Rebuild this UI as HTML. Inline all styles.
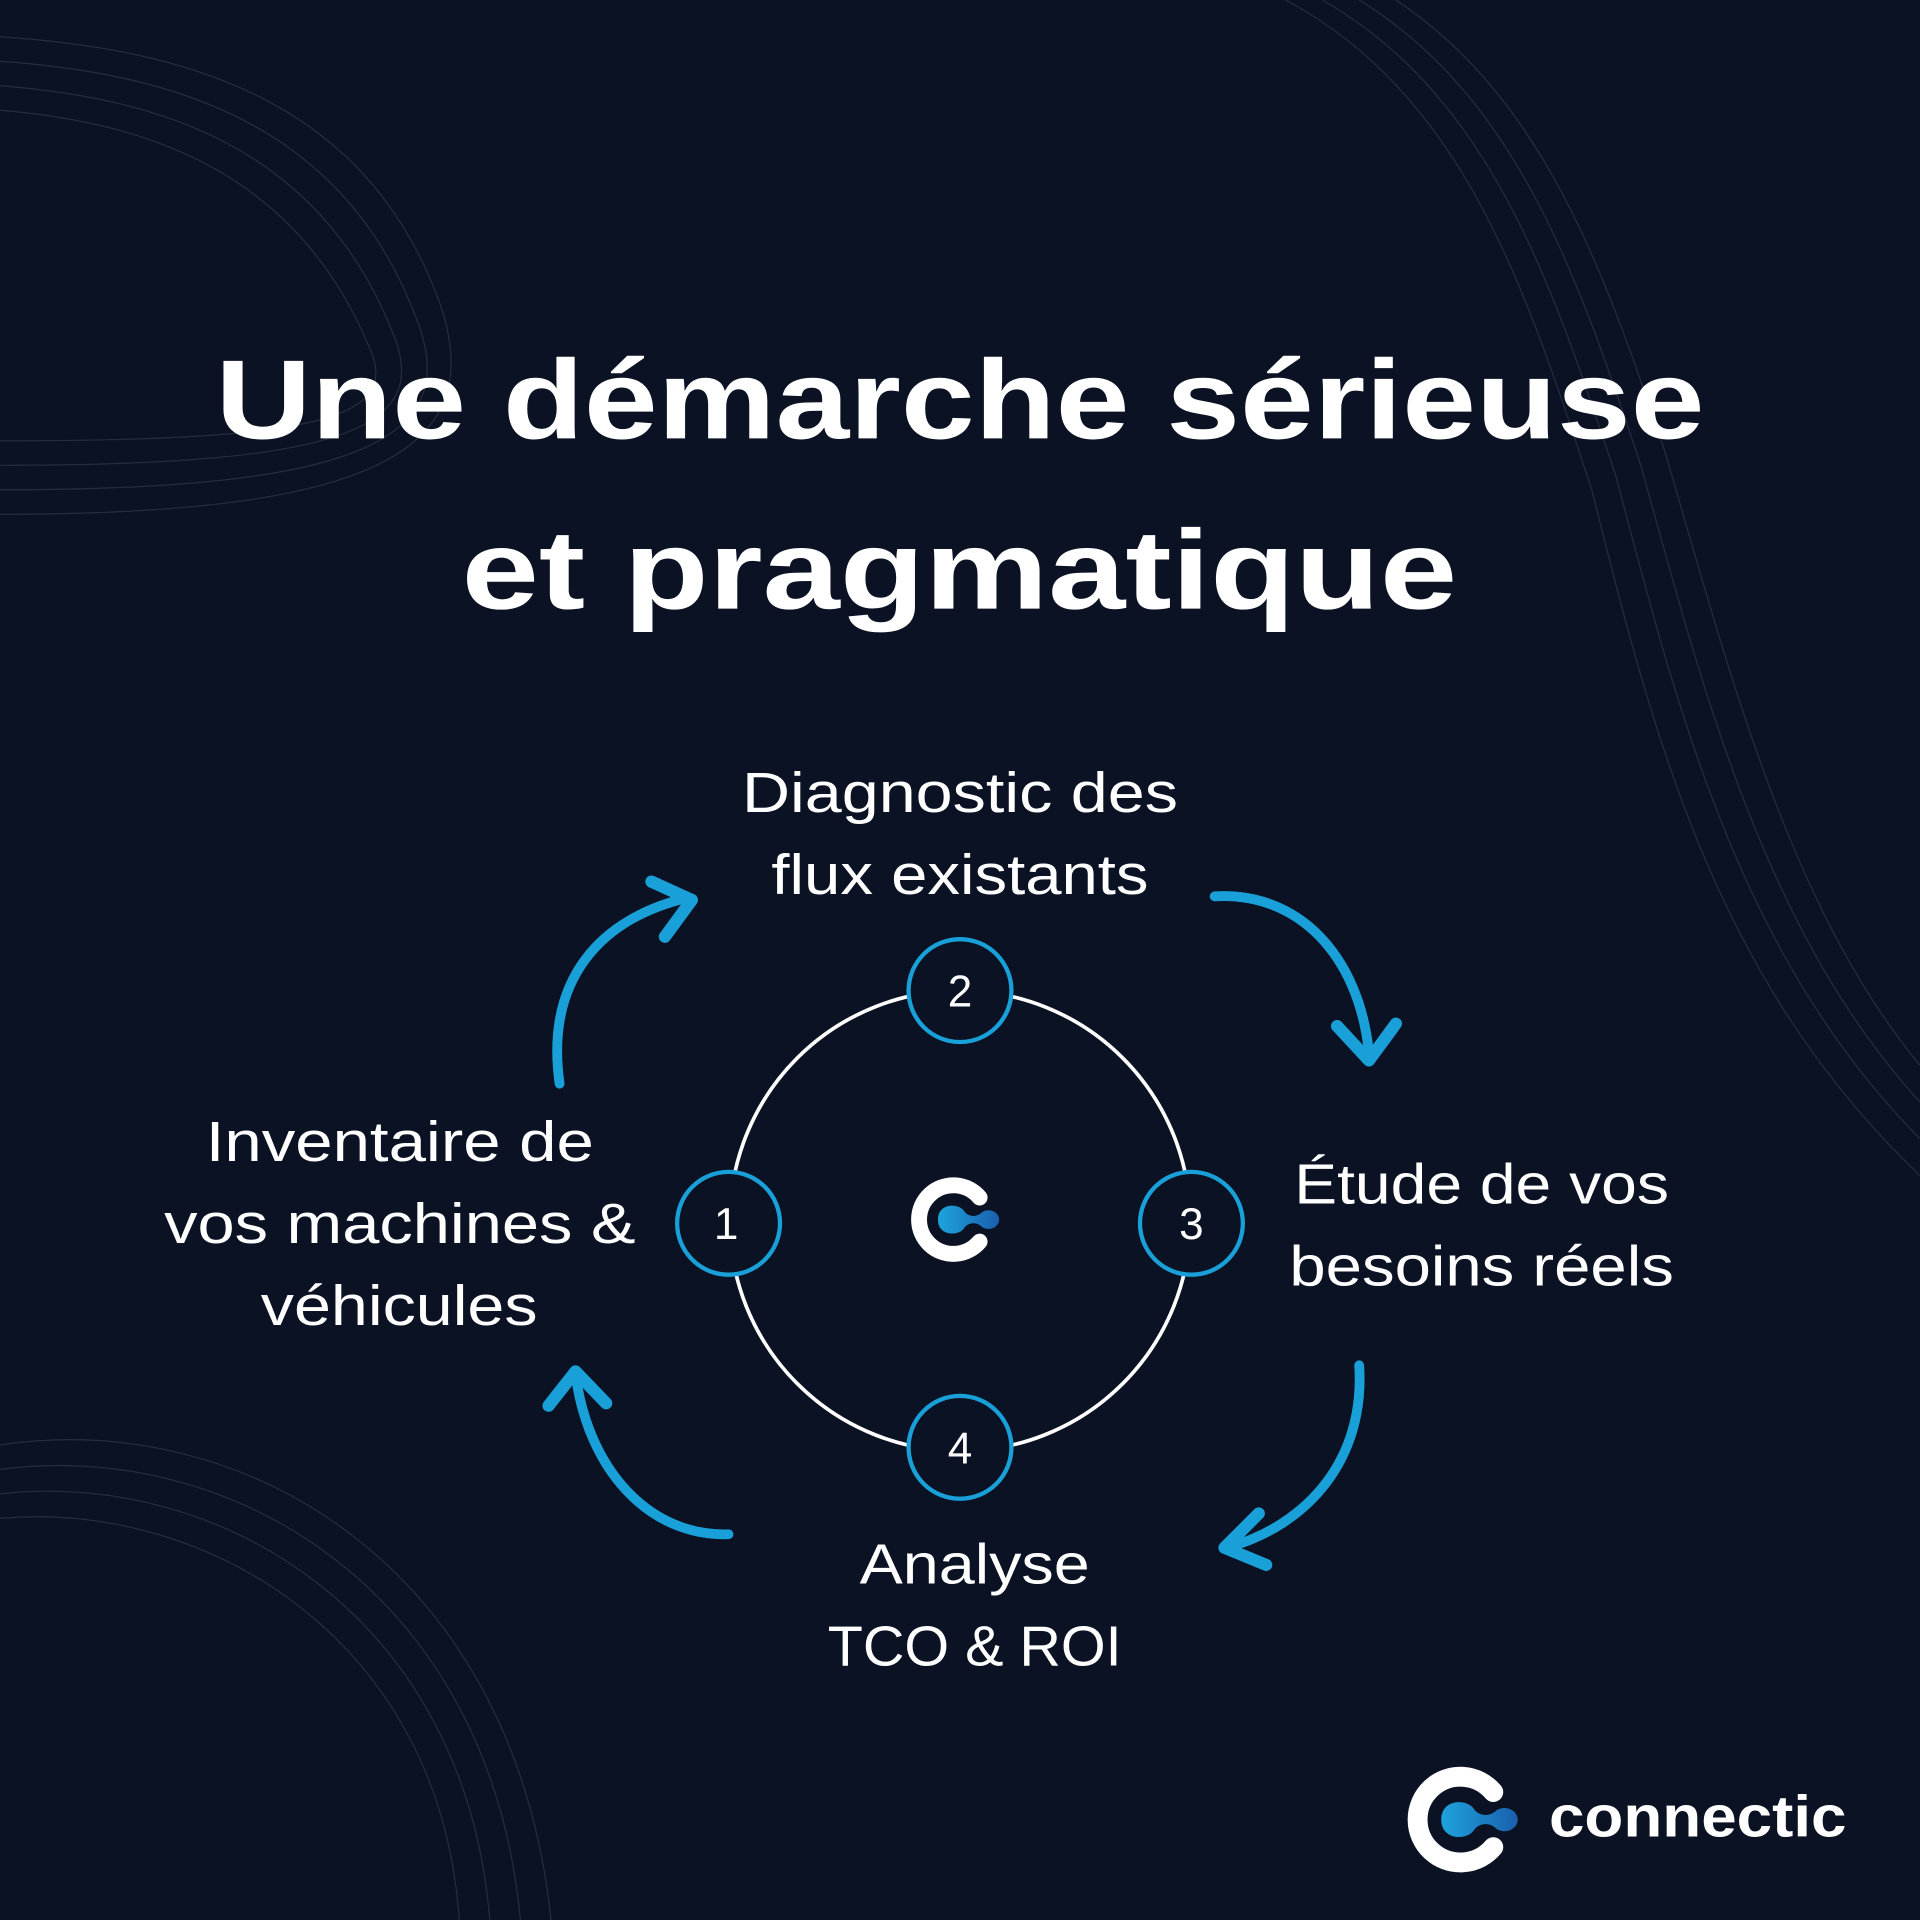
<!DOCTYPE html>
<html><head><meta charset="utf-8"><style>
html,body{margin:0;padding:0;background:#0b1223;}
svg{display:block}
text{font-family:"Liberation Sans",sans-serif;fill:#fff}
</style></head><body>
<svg width="1920" height="1920" viewBox="0 0 1568 1568" xmlns="http://www.w3.org/2000/svg">
<defs>
<linearGradient id="bl" x1="0" x2="1" y1="0" y2="0"><stop offset="0" stop-color="#1ea3dc"/><stop offset="1" stop-color="#1a5fae"/></linearGradient>
<g id="logo">
<path d="M22,-18 A28,28 0 1 0 22,18" fill="none" stroke="#fff" stroke-width="13" stroke-linecap="round"/>
<path d="M-12,0 C-12,-14 6,-14 10,-6 C14,-2 20,-2 24,-6 C30,-10 38,-6 38,0 C38,6 30,10 24,6 C20,2 14,2 10,6 C6,14 -12,14 -12,0 Z" fill="url(#bl)"/>
</g>
</defs>
<rect width="1568" height="1568" fill="#0b1223"/>
<g fill="none" stroke="#3a4356" stroke-width="1" opacity="0.55">
<path d="M0,30 C150,40 300,80 360,250 C400,370 300,420 0,420"/>
<path d="M0,50 C140,60 280,100 340,260 C380,360 290,400 0,400"/>
<path d="M0,70 C130,80 260,120 320,270 C355,350 280,380 0,380"/>
<path d="M0,90 C120,100 240,140 300,280 C330,340 270,360 0,360"/>
<path d="M0,1180 C200,1150 420,1280 450,1568"/>
<path d="M0,1200 C190,1175 400,1300 425,1568"/>
<path d="M0,1220 C180,1200 380,1320 400,1568"/>
<path d="M0,1240 C170,1225 360,1340 375,1568"/>
<path d="M1050,0 C1200,80 1250,250 1300,400 C1350,600 1400,800 1568,960"/>
<path d="M1080,0 C1220,80 1270,240 1320,390 C1370,580 1420,780 1568,930"/>
<path d="M1110,0 C1240,80 1290,230 1340,380 C1390,560 1440,760 1568,900"/>
<path d="M1140,0 C1260,80 1310,220 1360,370 C1410,540 1460,740 1568,870"/>
</g>
<text x="176" y="358" font-size="92" font-weight="bold" textLength="1216" lengthAdjust="spacingAndGlyphs">Une démarche sérieuse</text>
<text x="377" y="497" font-size="92" font-weight="bold" textLength="813" lengthAdjust="spacingAndGlyphs">et pragmatique</text>

<circle cx="784" cy="997" r="188" fill="none" stroke="#fff" stroke-width="3"/>
<g fill="#0b1223" stroke="#1aa0d8" stroke-width="3.5">
<circle cx="784" cy="809" r="42"/><circle cx="595" cy="999" r="42"/>
<circle cx="973" cy="999" r="42"/><circle cx="784" cy="1182" r="42"/>
</g>
<g font-size="36" text-anchor="middle">
<text x="784" y="822">2</text><text x="593" y="1012">1</text>
<text x="973" y="1012">3</text><text x="784" y="1195">4</text>
</g>
<use href="#logo" x="778" y="996"/>

<g font-size="46">
<text x="606" y="663" textLength="356" lengthAdjust="spacingAndGlyphs">Diagnostic des</text>
<text x="630" y="730" textLength="308" lengthAdjust="spacingAndGlyphs">flux existants</text>
<text x="168" y="948" textLength="317" lengthAdjust="spacingAndGlyphs">Inventaire de</text>
<text x="134" y="1015" textLength="385" lengthAdjust="spacingAndGlyphs">vos machines &amp;</text>
<text x="213" y="1082" textLength="226" lengthAdjust="spacingAndGlyphs">véhicules</text>
<text x="1057" y="983" textLength="306" lengthAdjust="spacingAndGlyphs">Étude de vos</text>
<text x="1053" y="1050" textLength="314" lengthAdjust="spacingAndGlyphs">besoins réels</text>
<text x="702" y="1293" textLength="188" lengthAdjust="spacingAndGlyphs">Analyse</text>
<text x="676" y="1360" textLength="240" lengthAdjust="spacingAndGlyphs">TCO &amp; ROI</text>
</g>

<g fill="none" stroke="#1aa0d8" stroke-linecap="round" stroke-linejoin="round">
<path d="M457,885 C445,800 490,750 562,733" stroke-width="8"/>
<polyline points="532,720 565,735 543,765" stroke-width="10"/>
<path d="M992,732 C1060,728 1110,780 1118,860" stroke-width="8"/>
<polyline points="1092,838 1118,866 1140,836" stroke-width="10"/>
<path d="M1110,1115 C1115,1190 1070,1245 1002,1264" stroke-width="8"/>
<polyline points="1028,1236 1000,1264 1034,1278" stroke-width="10"/>
<path d="M595,1253 C530,1255 480,1200 470,1122" stroke-width="8"/>
<polyline points="448,1148 470,1120 495,1146" stroke-width="10"/>
</g>

<use href="#logo" x="1192" y="1486" transform="translate(1192 1486) scale(1.25) translate(-1192 -1486)"/>
<text x="1265" y="1500" font-size="48" font-weight="bold" textLength="243" lengthAdjust="spacingAndGlyphs">connectic</text>
</svg>
</body></html>
